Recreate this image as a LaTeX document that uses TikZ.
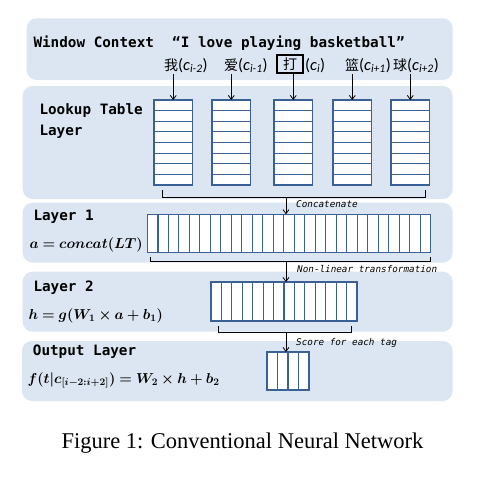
\documentclass[tikz,border=0pt]{standalone}
\usepackage{amsmath}
\usepackage{bm}
\usepackage[no-math]{fontspec}
\setmainfont{Liberation Serif}
\newfontfamily\monofnt{DejaVu Sans Mono}
\newfontfamily\cjkfnt{Noto Sans CJK SC}
\newfontfamily\calfnt{Carlito}
\usetikzlibrary{arrows.meta,calc}
\definecolor{panelbg}{RGB}{220,230,242}
\definecolor{cellline}{RGB}{59,96,148}
\newcommand{\cjkc}[1]{{\cjkfnt\fontsize{14}{16}\selectfont #1}}
\newcommand{\ctag}[1]{{\calfnt\fontsize{16.5}{18}\selectfont(\textit{c}\textsubscript{\textit{#1}})}}
\begin{document}
\begin{tikzpicture}[x=1pt,y=-1pt,
  panel/.style={fill=panelbg, rounded corners=10pt},
  txt/.style={font=\monofnt\bfseries\fontsize{14.3}{16}\selectfont, anchor=base west, inner sep=0pt},
  small/.style={font=\monofnt\itshape\fontsize{9.3}{11}\selectfont, anchor=base west, inner sep=0pt},
  frm/.style={font=\fontsize{14.1}{17}\selectfont, anchor=base west, inner sep=0pt},
  cjkl/.style={anchor=base west, inner sep=0pt},
  cellbox/.style={draw=cellline, line width=1.2pt, fill=white, inner sep=0pt, outer sep=0pt, anchor=north west},
  divline/.style={draw=cellline, line width=1.05pt},
  arr/.style={-{Straight Barb[length=4pt,width=6pt]}, line width=0.8pt},
  brk/.style={line width=0.8pt},
]
\useasboundingbox (0,0) rectangle (497,483);
\fill[white] (0,0) rectangle (497,483);

% panels
\fill[panel] (26.7,18.3) rectangle (452.7,80);
\fill[panel] (22.7,86) rectangle (452.7,199);
\fill[panel] (22.7,202.7) rectangle (452.7,262.7);
\fill[panel] (22.7,271.7) rectangle (452.7,331.7);
\fill[panel] (22,341) rectangle (452.7,401);

% window context
\node[txt] (wc) at (33.3,47) {Window Context};
\node[txt] (sent) at (172,47) {“I love playing basketball”};

\node[cjkl] (w1) at (164,70) {\cjkc{我}\ctag{i-2}};
\node[cjkl] (w2) at (224,70) {\cjkc{爱}\ctag{i-1}};
\node[draw, line width=1.2pt, inner sep=0pt, minimum width=26pt, minimum height=18pt] (w3) at (290,64) {\cjkc{打}};
\node[cjkl] (w3p) at (305,70) {\ctag{i}};
\node[cjkl] (w4) at (345,70) {\cjkc{篮}\ctag{i+1}};
\node[cjkl] (w5) at (393,70) {\cjkc{球}\ctag{i+2}};

% lookup table
\node[txt] (lt1) at (39.3,114) {Lookup Table};
\node[txt] (lt2) at (39.3,135) {Layer};
\foreach \i/\x in {1/154,2/212,3/274,4/333,5/391} {
  \node[cellbox, minimum width=38.5pt, minimum height=85pt] (col\i) at (\x,100) {};
  \foreach \k in {1,...,7}
    \draw[divline] ($(col\i.north west)+(0,\k*10.625)$) -- ($(col\i.north east)+(0,\k*10.625)$);
}
\draw[arr, shorten <=1pt] (w1.south -| col1.north) -- (col1.north);
\draw[arr, shorten <=1pt] (w2.south -| col2.north) -- (col2.north);
\draw[arr] (w3.south -| col3.north) -- (col3.north);
\draw[arr, shorten <=1pt] (w4.south -| col4.north) -- (col4.north);
\draw[arr, shorten <=1pt] (w5.south -| col5.north) -- (col5.north);

% concatenate
\draw[brk] (162,190) -- (162,197) -- (425,197) -- (425,190);
\coordinate (c1) at (286,197);
\node[cellbox, minimum width=283pt, minimum height=38pt] (bar1) at (147.5,214.3) {};
\foreach \k in {1,...,26}
  \draw[divline] ($(bar1.north west)+(\k*283/27,0)$) -- ($(bar1.south west)+(\k*283/27,0)$);
\draw[arr] (c1) -- (c1 |- bar1.north);
\node[small] (lc) at (296,207.7) {Concatenate};
\node[txt] (l1) at (33.3,220) {Layer 1};
\node[frm] (f1) at (29.3,248.3) {$\bm{a = concat(LT)}$};

% layer 2
\draw[brk] (150,257) -- (150,261.7) -- (430,261.7) -- (430,257);
\coordinate (c2) at (286,261.7);
\node[cellbox, minimum width=146pt, minimum height=39pt] (bar2) at (211,282) {};
\foreach \k in {1,...,13}
  \draw[divline] ($(bar2.north west)+(\k*146/14,0)$) -- ($(bar2.south west)+(\k*146/14,0)$);
\draw[arr] (c2) -- (c2 |- bar2.north);
\node[small] (ln) at (297,272) {Non-linear transformation};
\node[txt] (l2) at (33.3,291.7) {Layer 2};
\node[frm] (f2) at (28.3,319) {$\bm{h = g(W_1 \times a + b_1)}$};

% output
\draw[brk] (218,326) -- (218,332.5) -- (351,332.5) -- (351,326);
\coordinate (c3) at (286,332.5);
\node[cellbox, minimum width=42pt, minimum height=38pt] (bar3) at (267,352) {};
\foreach \k in {1,...,3}
  \draw[divline] ($(bar3.north west)+(\k*10.5,0)$) -- ($(bar3.south west)+(\k*10.5,0)$);
\draw[arr] (c3) -- (c3 |- bar3.north);
\node[small] (ls) at (296,345.7) {Score for each tag};
\node[txt] (lo) at (32.7,355) {Output Layer};
\node[frm] (f3) at (27.3,383) {$\bm{f(t|c_{[i-2:i+2]}) = W_2 \times h + b_2}$};

% caption
\node[font=\fontsize{22.5}{26}\selectfont, anchor=base, inner sep=0pt] (cap) at (242.5,448) {Figure 1: Conventional Neural Network};
\end{tikzpicture}
\end{document}
